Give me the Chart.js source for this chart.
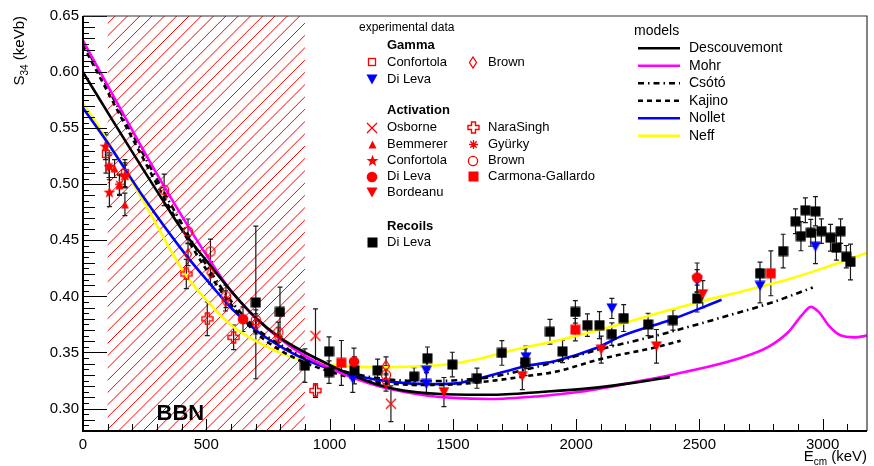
<!DOCTYPE html>
<html>
<head>
<meta charset="utf-8">
<script src="https://cdn.jsdelivr.net/npm/chart.js@4.4.0/dist/chart.umd.min.js"></script>
<style>
  html, body { margin: 0; padding: 0; background: #fff; }
</style>
</head>
<body>
<canvas id="c" width="874" height="466"></canvas>
<script>
// ---- axis ticks ----
const xTicks = [0, 500, 1000, 1500, 2000, 2500, 3000];
const yTicks = [0.30, 0.35, 0.40, 0.45, 0.50, 0.55, 0.60, 0.65];
const bbnRange = [100, 900];

// ---- experimental data: Gamma ----
const gConfE = [93, 170];
const gConfS = [0.527, 0.510];
const gConfErr = [0.017, 0.012];
const gBrownE = [426, 517, 578, 701, 792, 1229, 1229];
const gBrownS = [0.4375, 0.421, 0.396, 0.3755, 0.3635, 0.338, 0.3235];
const gBrownErr = [0.010, 0.010, 0.009, 0.009, 0.009, 0.008, 0.008];
const gDiLevaE = [1094, 1393, 1393, 1797, 2145, 2491, 2746, 2971];
const gDiLevaS = [0.3265, 0.3338, 0.322, 0.3457, 0.3893, 0.4138, 0.4093, 0.4443];
const gDiLevaErr = [0.012, 0.010, 0.010, 0.010, 0.009, 0.010, 0.015, 0.015];

// ---- experimental data: Activation ----
const osborneE = [943, 1249];
const osborneS = [0.3649, 0.3043];
const osborneErr = [0.024, 0.016];
const bemmE = [128, 148, 170];
const bemmS = [0.514, 0.499, 0.482];
const bemmErr = [0.008, 0.009, 0.010];
const aConfE = [91, 107, 107, 170];
const aConfS = [0.534, 0.516, 0.493, 0.508];
const aConfErr = [0.012, 0.012, 0.013, 0.011];
const aDiLevaE = [649, 1099, 2491];
const aDiLevaS = [0.3797, 0.3418, 0.4168];
const aDiLevaErr = [0.011, 0.012, 0.013];
const bordeanuE = [1464, 1782, 2102, 2326, 2514];
const bordeanuS = [0.3147, 0.3289, 0.3525, 0.3555, 0.402];
const bordeanuErr = [0.013, 0.012, 0.012, 0.015, 0.012];
const naraE = [419, 504, 611, 943];
const naraS = [0.420, 0.380, 0.3635, 0.316];
const naraErr = [0.013, 0.015, 0.011, 0.006];
const gyurkyE = [106, 148, 170];
const gyurkyS = [0.516, 0.500, 0.507];
const gyurkyErr = [0.010, 0.009, 0.010];
const aBrownE = [329, 426, 517, 580, 701, 792, 1229];
const aBrownS = [0.495, 0.458, 0.440, 0.400, 0.379, 0.368, 0.330];
const aBrownErr = [0.014, 0.011, 0.011, 0.010, 0.009, 0.009, 0.008];
const carmonaE = [1048, 1997, 2790];
const carmonaS = [0.3407, 0.3703, 0.4206];
const carmonaErr = [0.020, 0.010, 0.020];

// ---- experimental data: Recoils ----
const rDiLevaE = [701, 799, 900, 998, 998, 1101, 1195, 1343, 1397, 1498, 1598, 1699, 1793, 1894, 1945,
  1997, 2046, 2095, 2145, 2193, 2292, 2393, 2491, 2746, 2840, 2890, 2930, 2971, 2912, 2952, 2995,
  3032, 3073, 3056, 3096, 3113];
const rDiLevaS = [0.3946, 0.3862, 0.3383, 0.351, 0.3325, 0.334, 0.334, 0.3285, 0.3449, 0.3392, 0.3271,
  0.3496, 0.3413, 0.3685, 0.351, 0.3862, 0.3744, 0.3744, 0.3664, 0.3807, 0.375, 0.3789, 0.3981, 0.4206,
  0.4404, 0.467, 0.4768, 0.4759, 0.4537, 0.4567, 0.4582, 0.4523, 0.4582, 0.4434, 0.4354, 0.4307];
const rDiLevaErr = [0.068, 0.022, 0.015, 0.013, 0.010, 0.012, 0.010, 0.008, 0.010, 0.011, 0.009,
  0.011, 0.012, 0.011, 0.010, 0.010, 0.010, 0.012, 0.010, 0.012, 0.010, 0.009, 0.012, 0.010,
  0.015, 0.011, 0.011, 0.013, 0.013, 0.012, 0.011, 0.012, 0.011, 0.011, 0.010, 0.016];

// ---- models ----
const descE = [0, 120, 320, 400, 500, 600, 700, 800, 900, 1000, 1100, 1200, 1300, 1450, 1650, 1870, 2050, 2200, 2380];
const descS = [0.600, 0.557, 0.487, 0.460, 0.432, 0.405, 0.381, 0.363, 0.350, 0.339, 0.329, 0.321, 0.316, 0.313, 0.3123, 0.315, 0.318, 0.322, 0.328];
const mohrE = [0, 100, 200, 300, 400, 500, 600, 700, 800, 900, 1000, 1100, 1200, 1300, 1400, 1500, 1650, 1850,
  2000, 2200, 2450, 2650, 2780, 2860, 2915, 2952, 2985, 3025, 3070, 3130, 3180];
const mohrS = [0.628, 0.588, 0.548, 0.509, 0.472, 0.437, 0.405, 0.381, 0.362, 0.347, 0.336, 0.327, 0.320, 0.315,
  0.3115, 0.3095, 0.3085, 0.311, 0.3145, 0.322, 0.333, 0.344, 0.355, 0.368, 0.383, 0.3907, 0.386, 0.374, 0.3656, 0.3635, 0.365];
const csotoE = [0, 200, 400, 500, 600, 700, 800, 900, 1000, 1100, 1200, 1300, 1400, 1500, 1650, 1800, 1920, 2100, 2323, 2592, 2800, 2960];
const csotoS = [0.627, 0.545, 0.465, 0.428, 0.396, 0.372, 0.357, 0.345, 0.337, 0.331, 0.327, 0.325, 0.3245, 0.325, 0.328, 0.335, 0.3418, 0.353, 0.3649, 0.3813, 0.395, 0.408];
const kajinoE = [0, 200, 400, 500, 600, 700, 800, 900, 1000, 1100, 1200, 1300, 1400, 1500, 1650, 1800, 1920, 2100, 2323, 2424];
const kajinoS = [0.624, 0.541, 0.460, 0.424, 0.393, 0.368, 0.352, 0.341, 0.333, 0.327, 0.323, 0.3215, 0.321, 0.3215, 0.3245, 0.329, 0.333, 0.3442, 0.3546, 0.3605];
const nolletE = [0, 100, 250, 417, 524, 604, 712, 819, 900, 1000, 1100, 1263, 1400, 1500, 1600, 1800, 1920, 2082, 2189, 2391, 2590];
const nolletS = [0.568, 0.537, 0.487, 0.437, 0.409, 0.389, 0.368, 0.353, 0.344, 0.3355, 0.3295, 0.3236, 0.3218, 0.3222, 0.3265, 0.338, 0.3427, 0.354, 0.365, 0.3797, 0.397];
const neffE = [0, 47, 242, 417, 497, 604, 725, 833, 927, 1048, 1195, 1350, 1464, 1600, 1733, 1920, 2100, 2300, 2491, 2700, 2861, 3000, 3180];
const neffS = [0.572, 0.557, 0.486, 0.419, 0.3975, 0.3738, 0.3575, 0.347, 0.3413, 0.3383, 0.3369, 0.3375, 0.339, 0.344, 0.3516, 0.3605, 0.3705, 0.383, 0.3946, 0.406, 0.4153, 0.425, 0.439];

const RED = '#ff0000', BLUE = '#0000ff', BLACK = '#000000';
const FONT = '"Liberation Sans", Arial, Helvetica, sans-serif';

// ---- marker images ----
function mk(w, h, draw) {
  const c = document.createElement('canvas');
  c.width = w; c.height = h;
  const g = c.getContext('2d');
  draw(g, w, h);
  return c;
}
const markers = {
  sqOpenRed: mk(10, 10, g => { g.strokeStyle = RED; g.lineWidth = 1.3; g.strokeRect(1.5, 1.5, 7, 7); }),
  diamondRed: mk(10, 13, g => { g.strokeStyle = RED; g.lineWidth = 1.3; g.beginPath();
    g.moveTo(5, 1); g.lineTo(8.5, 6.5); g.lineTo(5, 12); g.lineTo(1.5, 6.5); g.closePath(); g.stroke(); }),
  triDownBlue: mk(12, 11, g => { g.fillStyle = BLUE; g.beginPath(); g.moveTo(0.5, 0.5); g.lineTo(11.5, 0.5); g.lineTo(6, 10.5); g.closePath(); g.fill(); }),
  triDownRed: mk(12, 11, g => { g.fillStyle = RED; g.beginPath(); g.moveTo(0.5, 0.5); g.lineTo(11.5, 0.5); g.lineTo(6, 10.5); g.closePath(); g.fill(); }),
  triUpRed: mk(9, 9, g => { g.fillStyle = RED; g.beginPath(); g.moveTo(4.5, 0.5); g.lineTo(8.5, 8.5); g.lineTo(0.5, 8.5); g.closePath(); g.fill(); }),
  xRed: mk(12, 12, g => { g.strokeStyle = RED; g.lineWidth = 1.3; g.beginPath();
    g.moveTo(1, 1); g.lineTo(11, 11); g.moveTo(11, 1); g.lineTo(1, 11); g.stroke(); }),
  crossOpenRed: mk(13, 13, g => { g.strokeStyle = RED; g.lineWidth = 1.4; g.beginPath();
    const p = [[4.5,1],[8.5,1],[8.5,4.5],[12,4.5],[12,8.5],[8.5,8.5],[8.5,12],[4.5,12],[4.5,8.5],[1,8.5],[1,4.5],[4.5,4.5]];
    p.forEach((q, i) => i ? g.lineTo(q[0], q[1]) : g.moveTo(q[0], q[1])); g.closePath(); g.stroke(); }),
  starRed: mk(13, 13, g => { g.fillStyle = RED; g.beginPath();
    for (let i = 0; i < 10; i++) { const r = i % 2 ? 2.6 : 6.3; const a = -Math.PI / 2 + i * Math.PI / 5;
      const x = 6.5 + r * Math.cos(a), y = 7 + r * Math.sin(a); i ? g.lineTo(x, y) : g.moveTo(x, y); }
    g.closePath(); g.fill(); }),
  asteriskRed: mk(11, 11, g => { g.strokeStyle = RED; g.lineWidth = 1.3; g.beginPath();
    g.moveTo(5.5, 1); g.lineTo(5.5, 10); g.moveTo(1, 5.5); g.lineTo(10, 5.5);
    g.moveTo(2.3, 2.3); g.lineTo(8.7, 8.7); g.moveTo(8.7, 2.3); g.lineTo(2.3, 8.7); g.stroke(); }),
  circOpenRed: mk(12, 12, g => { g.strokeStyle = RED; g.lineWidth = 1.3; g.beginPath(); g.arc(6, 6, 4.6, 0, Math.PI * 2); g.stroke(); }),
  circRed: mk(12, 12, g => { g.fillStyle = RED; g.beginPath(); g.arc(6, 6, 5.3, 0, Math.PI * 2); g.fill(); }),
  sqRed: mk(11, 11, g => { g.fillStyle = RED; g.fillRect(0.5, 0.5, 10, 10); }),
  sqBlack: mk(11, 11, g => { g.fillStyle = BLACK; g.fillRect(0.5, 0.5, 10, 10); })
};

function pts(label, E, S, err, marker) {
  return {
    type: 'scatter', label, order: 1,
    data: E.map((x, i) => ({ x, y: S[i] })),
    errs: err,
    pointStyle: markers[marker],
    pointRadius: 6, pointHoverRadius: 6,
    showLine: false
  };
}
function model(label, E, S, color, dash) {
  return {
    type: 'scatter', label, order: 5,
    data: E.map((x, i) => ({ x, y: S[i] })),
    showLine: true, borderColor: color, borderWidth: 2.6, borderDash: dash,
    cubicInterpolationMode: 'monotone', pointRadius: 0, pointHoverRadius: 0, fill: false
  };
}

const datasets = [
  model('Descouvemont', descE, descS, BLACK, []),
  model('Mohr', mohrE, mohrS, '#ff00ff', []),
  model('Csótó', csotoE, csotoS, BLACK, [6, 4, 1.5, 4]),
  model('Kajino', kajinoE, kajinoS, BLACK, [5, 4]),
  model('Nollet', nolletE, nolletS, BLUE, []),
  model('Neff', neffE, neffS, '#ffff00', []),
  pts('Confortola (gamma)', gConfE, gConfS, gConfErr, 'sqOpenRed'),
  pts('Brown (gamma)', gBrownE, gBrownS, gBrownErr, 'diamondRed'),
  pts('Osborne', osborneE, osborneS, osborneErr, 'xRed'),
  pts('Bemmerer', bemmE, bemmS, bemmErr, 'triUpRed'),
  pts('Confortola (activation)', aConfE, aConfS, aConfErr, 'starRed'),
  pts('NaraSingh', naraE, naraS, naraErr, 'crossOpenRed'),
  pts('Gyürky', gyurkyE, gyurkyS, gyurkyErr, 'asteriskRed'),
  pts('Brown (activation)', aBrownE, aBrownS, aBrownErr, 'circOpenRed'),
  pts('Di Leva (activation)', aDiLevaE, aDiLevaS, aDiLevaErr, 'circRed'),
  pts('Bordeanu', bordeanuE, bordeanuS, bordeanuErr, 'triDownRed'),
  pts('Carmona-Gallardo', carmonaE, carmonaS, carmonaErr, 'sqRed'),
  pts('Di Leva (recoils)', rDiLevaE, rDiLevaS, rDiLevaErr, 'sqBlack'),
  pts('Di Leva (gamma)', gDiLevaE, gDiLevaS, gDiLevaErr, 'triDownBlue')
];

// hatch + error bars under the markers
const underlay = {
  id: 'underlay',
  beforeDatasetsDraw(chart) {
    const { ctx, chartArea: a, scales: { x: X, y: Y } } = chart;
    const x1 = X.getPixelForValue(bbnRange[0]), x2 = X.getPixelForValue(bbnRange[1]);
    ctx.save();
    ctx.beginPath(); ctx.rect(x1, a.top, x2 - x1, a.bottom - a.top); ctx.clip();
    ctx.strokeStyle = RED; ctx.lineWidth = 1;
    const h = a.bottom - a.top, step = 12.3;
    let x0 = 155.3;
    while (x0 > x1 - h) x0 -= step;
    ctx.beginPath();
    for (let x = x0; x < x2 + step; x += step) { ctx.moveTo(x, a.bottom); ctx.lineTo(x + h, a.top); }
    ctx.stroke();
    ctx.restore();

    ctx.save();
    ctx.beginPath(); ctx.rect(a.left, a.top, a.right - a.left, a.bottom - a.top); ctx.clip();
    ctx.strokeStyle = '#1a1a1a'; ctx.lineWidth = 1.2;
    chart.data.datasets.forEach(ds => {
      if (!ds.errs) return;
      ds.data.forEach((p, i) => {
        const px = X.getPixelForValue(p.x);
        const yt = Y.getPixelForValue(p.y + ds.errs[i]), yb = Y.getPixelForValue(p.y - ds.errs[i]);
        ctx.beginPath();
        ctx.moveTo(px, yt); ctx.lineTo(px, yb);
        ctx.moveTo(px - 2.5, yt); ctx.lineTo(px + 2.5, yt);
        ctx.moveTo(px - 2.5, yb); ctx.lineTo(px + 2.5, yb);
        ctx.stroke();
      });
    });
    ctx.restore();
  }
};

// frame, ticks, titles, legends
const overlay = {
  id: 'overlay',
  afterDraw(chart) {
    const { ctx, chartArea: a, scales: { x: X, y: Y } } = chart;
    ctx.save();
    // BBN label
    ctx.fillStyle = BLACK; ctx.font = 'bold 22px ' + FONT;
    ctx.textAlign = 'center'; ctx.textBaseline = 'middle';
    ctx.fillText('BBN', X.getPixelForValue(395), Y.getPixelForValue(0.2955));

    // ticks
    ctx.strokeStyle = BLACK; ctx.lineWidth = 1;
    ctx.beginPath();
    for (let e = 100; e < X.max; e += 100) {
      const px = Math.round(X.getPixelForValue(e)) + 0.5;
      const len = e % 500 === 0 ? 12 : 7;
      ctx.moveTo(px, a.bottom); ctx.lineTo(px, a.bottom - len);
    }
    for (let k = 57; k <= 130; k++) {
      const v = k * 0.005;
      const py = Math.round(Y.getPixelForValue(v)) + 0.5;
      const len = k % 10 === 0 ? 24 : (k % 2 === 0 ? 12 : 6);
      ctx.moveTo(a.left, py); ctx.lineTo(a.left + len, py);
    }
    ctx.stroke();

    // frame
    ctx.strokeStyle = '#333'; ctx.lineWidth = 1.2;
    ctx.beginPath();
    ctx.moveTo(a.left, a.top); ctx.lineTo(a.right, a.top); ctx.lineTo(a.right, a.bottom);
    ctx.stroke();
    ctx.strokeStyle = BLACK; ctx.lineWidth = 2;
    ctx.beginPath();
    ctx.moveTo(a.left, a.top); ctx.lineTo(a.left, a.bottom); ctx.lineTo(a.right, a.bottom);
    ctx.stroke();

    // axis titles
    ctx.fillStyle = BLACK; ctx.textBaseline = 'alphabetic'; ctx.textAlign = 'left';
    // x title: E_cm (keV), right aligned
    const parts = [['E', 15, 0], ['cm', 10, 4], [' (keV)', 15, 0]];
    let w = 0;
    parts.forEach(p => { ctx.font = p[1] + 'px ' + FONT; w += ctx.measureText(p[0]).width; });
    let cx = a.right - w, base = 461;
    parts.forEach(p => { ctx.font = p[1] + 'px ' + FONT; ctx.fillText(p[0], cx, base + p[2]); cx += ctx.measureText(p[0]).width; });
    // y title: S_34 (keVb), rotated, top aligned
    ctx.save();
    ctx.translate(24, a.top);
    ctx.rotate(-Math.PI / 2);
    const yp = [['S', 15, 0], ['34', 10, 4], [' (keVb)', 15, 0]];
    w = 0;
    yp.forEach(p => { ctx.font = p[1] + 'px ' + FONT; w += ctx.measureText(p[0]).width; });
    cx = -w;
    yp.forEach(p => { ctx.font = p[1] + 'px ' + FONT; ctx.fillText(p[0], cx, p[2]); cx += ctx.measureText(p[0]).width; });
    ctx.restore();

    // experimental data legend
    ctx.textBaseline = 'middle'; ctx.textAlign = 'left';
    ctx.font = '12px ' + FONT;
    ctx.fillText('experimental data', 359, 28);
    const mark = (m, x, y) => { const c = markers[m]; ctx.drawImage(c, Math.round(x - c.width / 2), Math.round(y - c.height / 2)); };
    const heads = [['Gamma', 45.7], ['Activation', 110.7], ['Recoils', 226.7]];
    ctx.font = 'bold 13px ' + FONT;
    heads.forEach(hd => ctx.fillText(hd[0], 387, hd[1]));
    const rows = [
      ['sqOpenRed', 'Confortola', 372, 62.3], ['diamondRed', 'Brown', 473, 62.3],
      ['triDownBlue', 'Di Leva', 372, 79],
      ['xRed', 'Osborne', 372, 127.7], ['crossOpenRed', 'NaraSingh', 473, 127.7],
      ['triUpRed', 'Bemmerer', 372, 144], ['asteriskRed', 'Gyürky', 473, 144],
      ['starRed', 'Confortola', 372, 160.7], ['circOpenRed', 'Brown', 473, 160.7],
      ['circRed', 'Di Leva', 372, 176.7], ['sqRed', 'Carmona-Gallardo', 473, 176.7],
      ['triDownRed', 'Bordeanu', 372, 192.7],
      ['sqBlack', 'Di Leva', 372, 242.7]
    ];
    ctx.font = '13px ' + FONT;
    rows.forEach(r => { mark(r[0], r[2], r[3]); ctx.fillText(r[1], r[2] + 15, r[3]); });

    // models legend
    ctx.font = '14px ' + FONT;
    ctx.fillText('models', 634, 30.7);
    const mrows = chart.data.datasets.filter(d => d.order === 5);
    mrows.forEach((d, i) => {
      const y = 48.3 + i * 17.5;
      ctx.strokeStyle = d.borderColor; ctx.lineWidth = 2.6; ctx.setLineDash(d.borderDash);
      ctx.beginPath(); ctx.moveTo(638, y); ctx.lineTo(680, y); ctx.stroke();
      ctx.setLineDash([]);
      ctx.fillText(d.label, 689, y);
    });
    ctx.restore();
  }
};

new Chart(document.getElementById('c'), {
  type: 'scatter',
  data: { datasets },
  options: {
    responsive: false,
    animation: false,
    events: [],
    layout: { padding: { top: 16, right: 1, left: 0, bottom: 0 } },
    plugins: { legend: { display: false }, tooltip: { enabled: false } },
    scales: {
      x: {
        type: 'linear', min: 0, max: 3180, position: 'bottom',
        grid: { display: false, drawTicks: false }, border: { display: false },
        afterBuildTicks: s => { s.ticks = xTicks.map(v => ({ value: v })); },
        afterFit: s => { s.height = 35; },
        ticks: { padding: 5, color: BLACK, font: { size: 15, family: FONT }, maxRotation: 0, callback: v => String(v) }
      },
      y: {
        type: 'linear', min: 0.28, max: 0.65,
        grid: { display: false, drawTicks: false }, border: { display: false },
        afterBuildTicks: s => { s.ticks = yTicks.map(v => ({ value: v })); },
        afterFit: s => { s.width = 83; },
        ticks: { padding: 4, color: BLACK, font: { size: 15, family: FONT }, callback: v => v.toFixed(2) }
      }
    }
  },
  plugins: [underlay, overlay]
});
</script>
</body>
</html>
